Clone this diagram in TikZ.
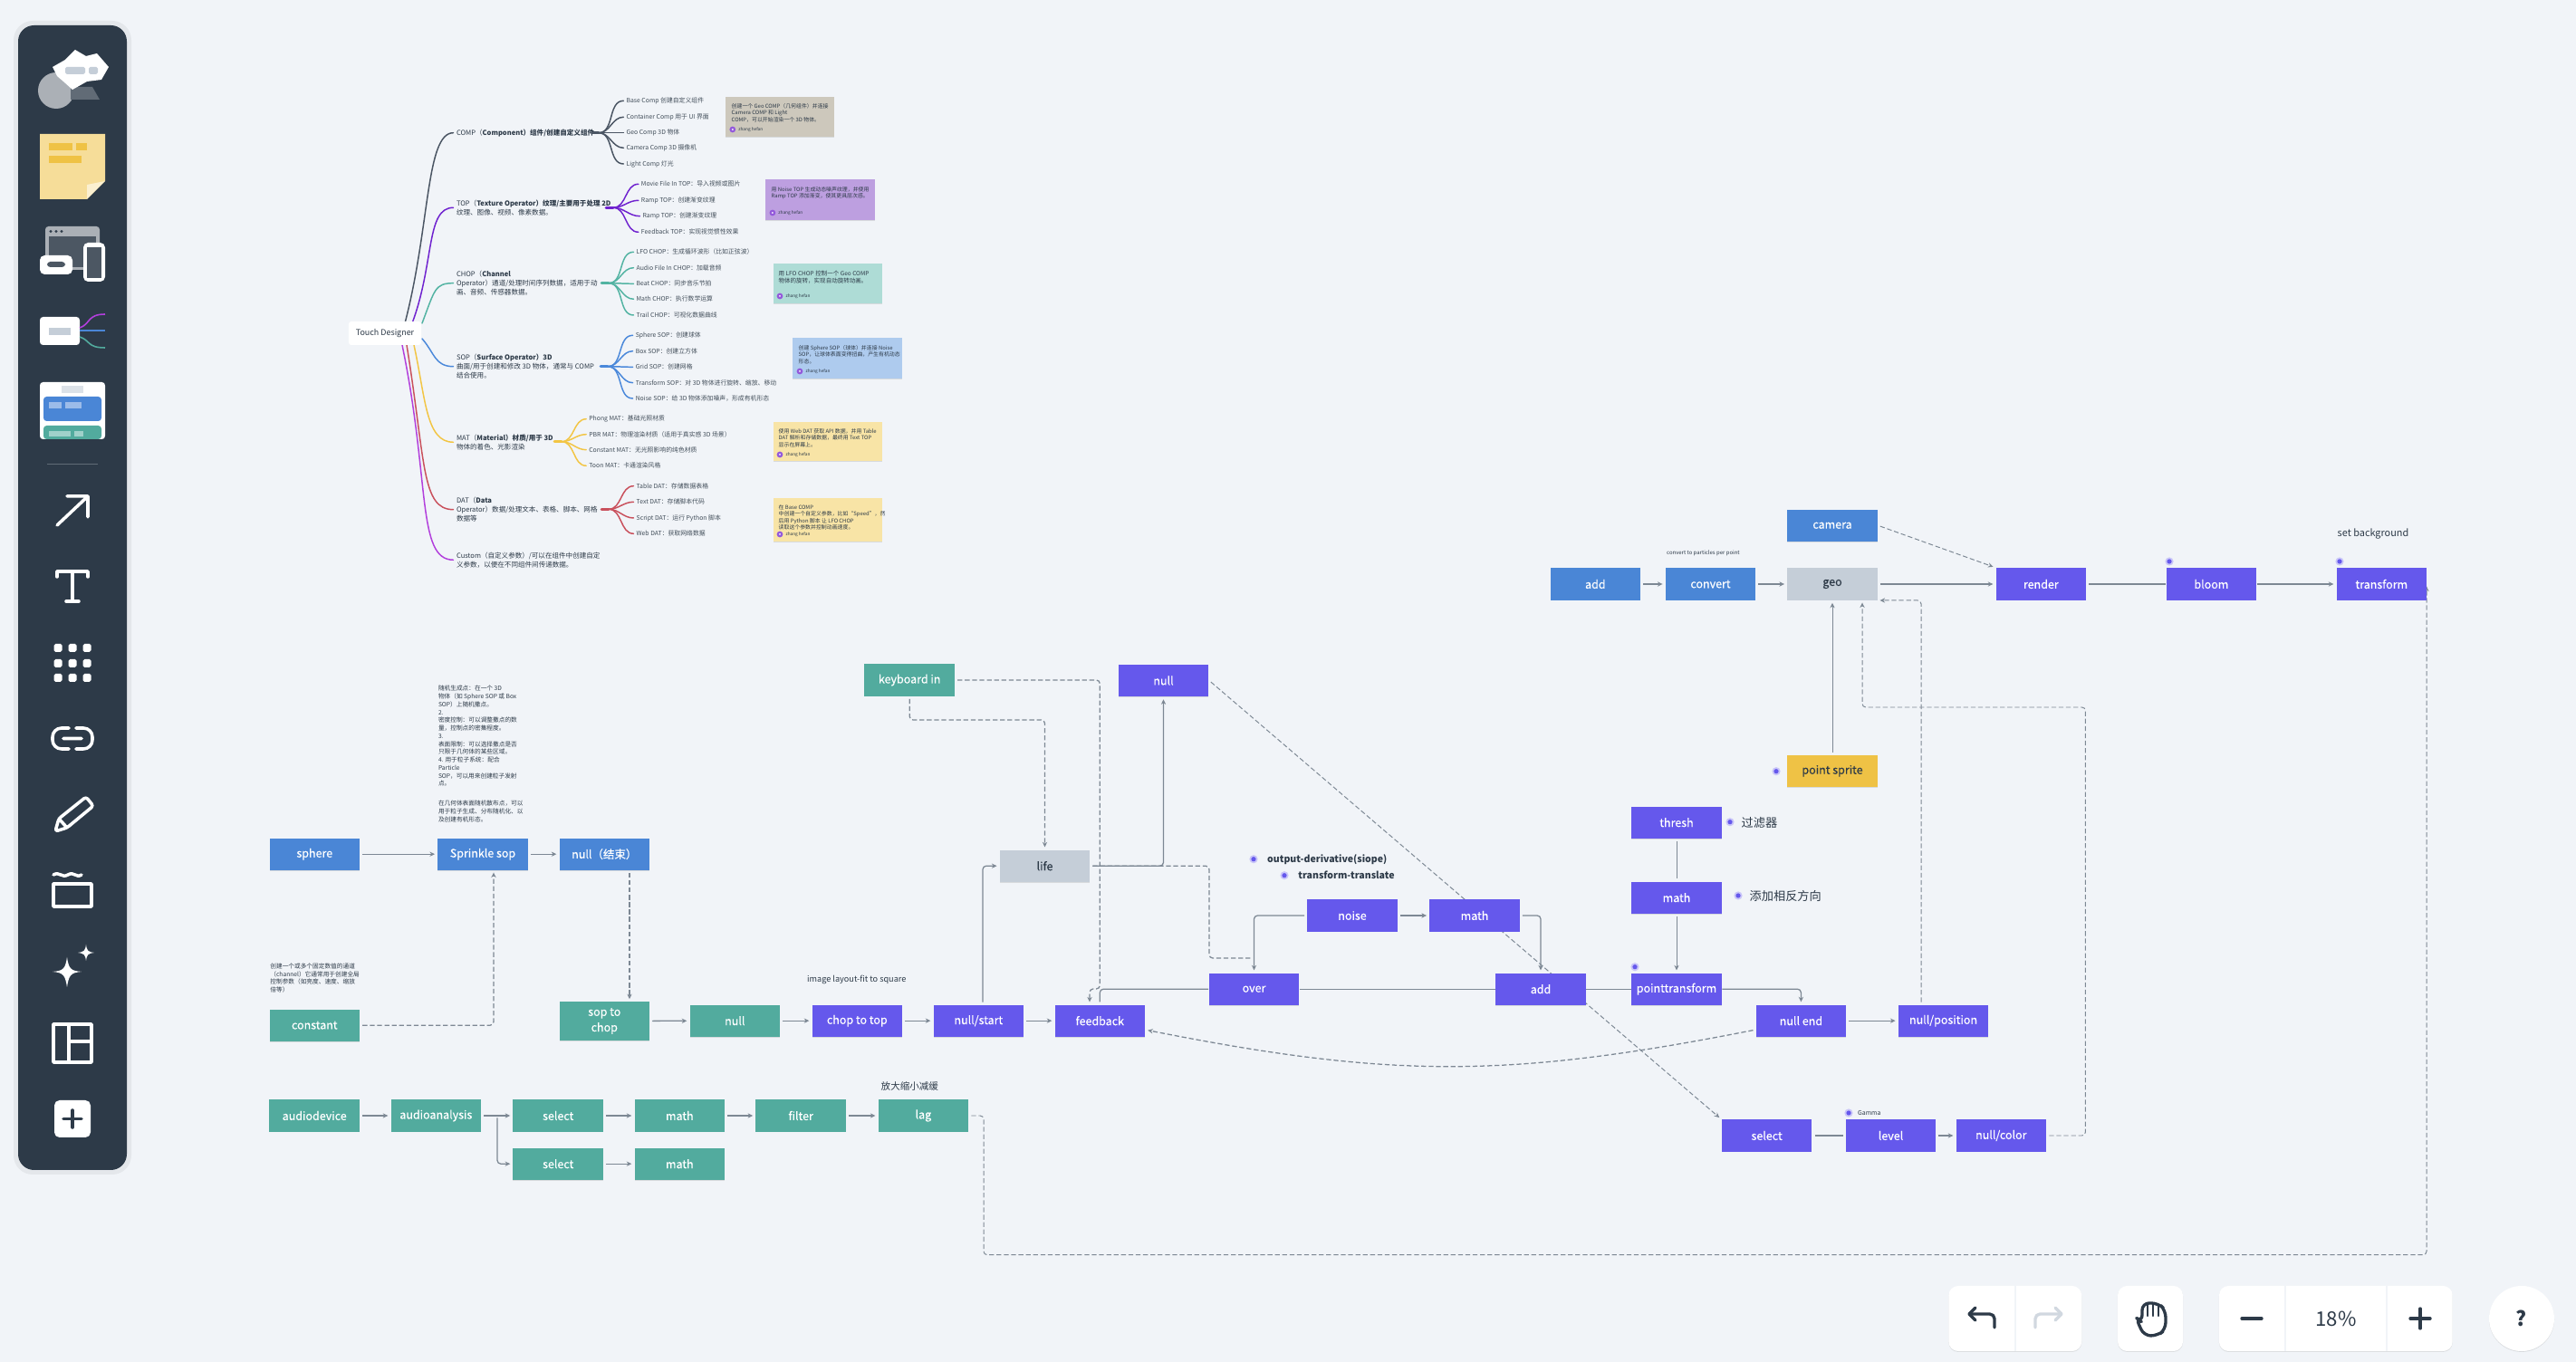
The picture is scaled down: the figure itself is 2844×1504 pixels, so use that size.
\documentclass[tikz,border=0pt]{standalone}
\usepackage{fontspec}
\setmainfont{Noto Sans CJK SC}
\usetikzlibrary{arrows.meta,shadows}
\definecolor{boardbg}{HTML}{F1F4F8}
\definecolor{panel}{HTML}{2D3A48}
\definecolor{ink}{HTML}{2D3A48}
\definecolor{wire}{HTML}{7D8894}
\definecolor{boxblue}{HTML}{4A86D6}
\definecolor{boxteal}{HTML}{52AB9E}
\definecolor{boxpurple}{HTML}{6558EC}
\definecolor{boxgrey}{HTML}{C5CED8}
\definecolor{boxyellow}{HTML}{EFC245}
\definecolor{mapcomp}{HTML}{4A5563}
\definecolor{maptop}{HTML}{6F22CF}
\definecolor{mapchop}{HTML}{52B3A2}
\definecolor{mapsop}{HTML}{4A88DA}
\definecolor{mapmat}{HTML}{F2C544}
\definecolor{mapdat}{HTML}{C9505C}
\definecolor{mapcustom}{HTML}{B23FDC}
\definecolor{notestone}{RGB}{205,200,188}
\definecolor{notelilac}{RGB}{189,159,224}
\definecolor{notemint}{RGB}{174,220,214}
\definecolor{notesky}{RGB}{174,203,238}
\definecolor{notesand}{RGB}{248,228,166}
\pgfdeclarelayer{board}
\pgfdeclarelayer{links}
\pgfsetlayers{board,links,main}
\tikzset{
	softshade/.style={drop shadow={shadow xshift=0pt,shadow yshift=-0.25pt,opacity=0.18,fill=black!60}},
	opbox/.style={rectangle,minimum width=0.995cm,minimum height=0.352cm,inner sep=0pt,text=white,softshade,font=\fontsize{3.55pt}{4.9pt}\selectfont\addfontfeature{FakeBold=0.3},align=center},
	bluebox/.style={opbox,fill=boxblue},
	tealbox/.style={opbox,fill=boxteal},
	purplebox/.style={opbox,fill=boxpurple},
	greybox/.style={opbox,fill=boxgrey,text=ink},
	yellowbox/.style={opbox,fill=boxyellow,text=ink},
	wirelink/.style={draw=wire,line width=0.36pt,rounded corners=1.1pt,shorten <=0.7pt,shorten >=0.7pt},
	wirearrow/.style={wirelink,-{Stealth[length=1.6pt,width=1.5pt]}},
	dashlink/.style={wirelink,dash pattern=on 1.5pt off 0.8pt},
	dasharrow/.style={dashlink,-{Stealth[length=1.6pt,width=1.5pt]}},
	caption/.style={inner sep=0pt,anchor=west,text=ink,font=\fontsize{2.6pt}{3.2pt}\selectfont},
	rootnode/.style={rectangle,fill=white,rounded corners=0.8pt,minimum width=0.8cm,minimum height=0.26cm,inner sep=0pt,text=ink,font=\fontsize{2.55pt}{3pt}\selectfont},
	topictext/.style={inner sep=0pt,outer sep=1pt,anchor=west,align=left,text=ink,font=\fontsize{2.15pt}{2.9pt}\selectfont},
	leaftext/.style={inner sep=0pt,outer sep=0.9pt,anchor=west,text=ink!90,font=\fontsize{1.95pt}{2.4pt}\selectfont},
	notecard/.style={rectangle,inner sep=0pt,minimum width=1.2cm,softshade},
	notetext/.style={inner sep=0pt,anchor=north west,align=left,text=ink,font=\fontsize{1.68pt}{2.1pt}\selectfont},
	noteauthor/.style={inner sep=0pt,anchor=west,text=ink,font=\fontsize{1.35pt}{1.6pt}\selectfont},
	plaintext/.style={inner sep=0pt,anchor=north west,align=left,text=ink,font=\fontsize{1.9pt}{2.49pt}\selectfont},
	mapline/.style={line width=0.42pt,line cap=round},
	iconline/.style={draw=white,line width=1pt,line cap=round,line join=round},
	dockbox/.style={rectangle,fill=white,rounded corners=3pt,minimum height=0.72cm,inner sep=0pt,softshade},
	dockline/.style={draw=ink,line width=0.95pt,line cap=round,line join=round},
	dockglyph/.style={inner sep=0pt,text=ink,font=\fontsize{6.3pt}{7pt}\selectfont},
}
\def\fieldmark(#1){\fill[boxpurple!35] (#1) circle (4.6); \fill[boxpurple] (#1) circle (2.6);}
\def\noteby(#1,#2){\fill[maptop!75] (#1,#2) circle (3.4); \fill[white] (#1,#2) circle (1); \node[noteauthor] at (#1+5.8,#2) {zhang hefan};}

\begin{document}
\begin{tikzpicture}[x=0.01cm,y=-0.01cm]
	\useasboundingbox (0,0) rectangle (2844,1504);
	\begin{pgfonlayer}{board}
		\fill[boardbg] (0,0) rectangle (2844,1504);
	\end{pgfonlayer}
	
	%%%%% TOOLBAR %%%%%
	
	\fill[black,opacity=0.05,rounded corners=6pt] (15,23) rectangle (145,1297);
	\fill[panel,rounded corners=5pt] (20,28) rectangle (140,1292);
	
	\fill[white!60!panel] (62,100) circle (20);
	\fill[white!25!panel] (78,96) -- (102,96) -- (110,110) -- (78,110) -- cycle;
	\fill[white] (58,74) -- (72,66) -- (83,55) -- (95,62) -- (107,59) -- (120,74) -- (112,88) -- (96,90) -- (80,99) -- (70,90) -- (63,84) -- cycle;
	\fill[boxgrey,rounded corners=0.5pt] (72,74) rectangle (94,82);
	\fill[boxgrey,rounded corners=0.5pt] (98,74) rectangle (108,82);
	
	\fill[boxyellow!55!white] (44,148) -- (116,148) -- (116,200) -- (96,220) -- (44,220) -- cycle;
	\fill[boxyellow!25!white] (96,220) -- (96,204) -- (116,200) -- cycle;
	\fill[boxyellow] (54,158) rectangle (80,166);
	\fill[boxyellow] (84,158) rectangle (96,166);
	\fill[boxyellow] (54,172.5) rectangle (90,180);
	
	\fill[white!60!panel,rounded corners=1pt] (50,250) rectangle (110,298);
	\fill[white!15!panel] (54,261) rectangle (106,295);
	\foreach \dotx in {56,62,68} {\fill[panel] (\dotx,255.5) circle (1.6);}
	\fill[white,rounded corners=1.5pt] (44,282) rectangle (80,303);
	\fill[white!15!panel,rounded corners=1pt] (52,289) rectangle (72,295);
	\fill[white,rounded corners=1.5pt] (92,268) rectangle (116,311);
	\fill[white!15!panel] (96,273) rectangle (112,307);
	
	\fill[white,rounded corners=1pt] (44,350) rectangle (88,381);
	\fill[boxgrey] (54,362) rectangle (78,370);
	\draw[mapcustom,line width=0.45pt] (88,362) .. controls (100,358) and (96,347) .. (116,347);
	\draw[boxblue,line width=0.45pt] (88,365) -- (116,365);
	\draw[boxteal,line width=0.45pt] (88,372) .. controls (100,376) and (96,384) .. (116,384);
	
	\fill[white,rounded corners=1pt] (44,422) rectangle (116,485);
	\fill[boxgrey!60!white] (68,426) rectangle (92,434);
	\fill[boxblue,rounded corners=1pt] (48,438) rectangle (112,465);
	\fill[white!45!boxblue] (54,444) rectangle (68,451);
	\fill[white!45!boxblue] (72,444) rectangle (90,451);
	\fill[boxteal,rounded corners=1pt] (48,470) rectangle (112,485);
	\fill[white!45!boxteal] (54,476) rectangle (78,482);
	\fill[white!45!boxteal] (82,476) rectangle (92,482);
	
	\draw[white!25!panel,line width=0.4pt] (52,512.6) -- (108,512.6);
	
	\draw[iconline] (63,580) -- (97,548) (74,548) -- (97,548) -- (97,571);
	\draw[iconline] (63,637) -- (63,631) -- (97,631) -- (97,637) (80,631) -- (80,664) (73,664) -- (87,664);
	\foreach \dotx in {64,80,96} {\foreach \doty in {715.5,732.5,748.5} {\fill[white,rounded corners=0.5pt] (\dotx-4.5,\doty-4.5) rectangle (\dotx+4.5,\doty+4.5);}}
	\draw[iconline,rounded corners=2.8pt] (76,804) -- (58,804) -- (58,827) -- (76,827) (84,804) -- (102,804) -- (102,827) -- (84,827) (70,815.5) -- (90,815.5);
	\draw[iconline,rounded corners=0.8pt] (61,918) -- (65,904) -- (95,880) -- (103,890) -- (74,914) -- cycle (65,904) -- (74,914);
	\draw[iconline] (59,966) .. controls (66,962) and (68,970) .. (75,966) .. controls (82,962) and (84,970) .. (90,966);
	\draw[iconline] (59,976) rectangle (101,1001);
	\fill[white] (74,1057) .. controls (76,1070) and (78,1072) .. (90,1073) .. controls (78,1074) and (76,1077) .. (74,1090) .. controls (72,1077) and (70,1074) .. (58,1073) .. controls (70,1072) and (72,1070) .. (74,1057) -- cycle;
	\fill[white] (95,1043) .. controls (96,1050) and (97,1051) .. (104,1052) .. controls (97,1053) and (96,1054) .. (95,1061) .. controls (94,1054) and (93,1053) .. (86,1052) .. controls (93,1051) and (94,1050) .. (95,1043) -- cycle;
	\draw[iconline] (59,1131) rectangle (101,1173) (76,1131) -- (76,1173) (76,1150) -- (101,1150);
	\fill[white,rounded corners=1.6pt] (60,1215) rectangle (100,1256);
	\draw[panel,line width=1pt,line cap=round] (70,1235.5) -- (90,1235.5) (80,1226) -- (80,1245);
	
	%%%%% ZOOM BAR %%%%%
	
	\node[dockbox,minimum width=1.468cm] (undobar) at (2224.8,1456) {};
	\node[dockbox,minimum width=0.72cm] (handbar) at (2374,1456) {};
	\node[dockbox,minimum width=2.577cm] (zoombar) at (2578.8,1456) {};
	\node[dockbox,circle,minimum width=0.72cm] (helpbar) at (2784,1456) {};
	\draw[boardbg,line width=0.3pt] (2225,1420) -- (2225,1492) (2523,1420) -- (2523,1492) (2635,1420) -- (2635,1492);
	\draw[dockline,rounded corners=1.5pt] (2202,1466) -- (2202,1451) -- (2174,1451);
	\draw[dockline] (2181,1444) -- (2174,1451) -- (2181,1458);
	\draw[dockline,draw=boxgrey!80!white,rounded corners=1.5pt] (2247,1466) -- (2247,1451) -- (2276,1451);
	\draw[dockline,draw=boxgrey!80!white] (2269,1444) -- (2276,1451) -- (2269,1458);
	\draw[dockline,rounded corners=2.2pt] (2358,1455) -- (2365,1460) -- (2365,1439) -- (2383,1439) -- (2391,1447) -- (2391,1468) -- (2382,1475) -- (2367,1475) -- cycle;
	\draw[dockline,line width=0.6pt] (2371,1441) -- (2371,1453) (2377,1441) -- (2377,1453) (2383,1441) -- (2383,1453);
	\draw[dockline] (2475,1456) -- (2497,1456) (2661,1456) -- (2683,1456) (2672,1445) -- (2672,1467);
	\node[dockglyph] (zoomlevel) at (2579,1456) {18\%};
	\node[dockglyph,font=\fontsize{6.4pt}{7pt}\selectfont\bfseries] (helpmark) at (2784,1456) {?};
	
	%%%%% MIND MAP %%%%%
	
	\node[rootnode] (root) at (425,368) {Touch Designer};
	\node[topictext] (comp) at (500.5,146.7) {COMP（\bfseries Component）组件/创建自定义组件};
	\node[topictext] (top) at (500.5,229.3) {TOP（\bfseries Texture Operator）纹理/主要用于处理 2D\\纹理、图像、视频、像素数据。};
	\node[topictext] (chop) at (500.5,312.7) {CHOP（\bfseries Channel\\Operator）通道/处理时间序列数据，适用于动\\画、音频、传感器数据。};
	\node[topictext] (sop) at (500.5,404.7) {SOP（\bfseries Surface Operator）3D\\曲面/用于创建和修改 3D 物体，通常与 COMP\\结合使用。};
	\node[topictext] (mat) at (500.5,488.3) {MAT（\bfseries Material）材质/用于 3D\\物体的着色、光影渲染};
	\node[topictext] (dat) at (500.5,562.7) {DAT（\bfseries Data\\Operator）数据/处理文本、表格、脚本、网格\\数据等};
	\node[topictext] (custom) at (500.5,618.3) {Custom（自定义参数）/可以在组件中创建自定\\义参数，以便在不同组件间传递数据。};
	\begin{pgfonlayer}{links}
		\draw[mapline,mapcomp] (447,357) .. controls (475,250) and (470,146.7) .. (comp.west);
		\draw[mapline,maptop] (455,357) .. controls (480,290) and (470,229.3) .. (top.west);
		\draw[mapline,mapchop] (466,357) .. controls (480,320) and (480,312.7) .. (chop.west);
		\draw[mapline,mapsop] (466,374) .. controls (480,390) and (480,404.7) .. (sop.west);
		\draw[mapline,mapmat] (457,381) .. controls (470,440) and (470,488.3) .. (mat.west);
		\draw[mapline,mapdat] (449,381) .. controls (470,510) and (465,562.7) .. (dat.west);
		\draw[mapline,mapcustom] (444,381) .. controls (475,530) and (460,618.3) .. (custom.west);
	\end{pgfonlayer}
	
	\coordinate (compfork) at (661,146.7);
	\coordinate (topfork) at (677,229.3);
	\coordinate (chopfork) at (672,312.7);
	\coordinate (sopfork) at (671,404.7);
	\coordinate (matfork) at (620,487.7);
	\coordinate (datfork) at (672,562.3);
	\draw[mapline,mapcomp,line width=0.75pt] (653,146.7) -- (compfork);
	\draw[mapline,maptop,line width=0.75pt] (669,229.3) -- (topfork);
	\draw[mapline,mapchop,line width=0.75pt] (664,312.7) -- (chopfork);
	\draw[mapline,mapsop,line width=0.75pt] (663,404.7) -- (sopfork);
	\draw[mapline,mapmat,line width=0.75pt] (612,487.7) -- (matfork);
	\draw[mapline,mapdat,line width=0.75pt] (664,562.3) -- (datfork);
	
	\foreach \leafname/\leafy/\leaftxt in {compa/111.3/{Base Comp 创建自定义组件},compb/129.3/{Container Comp 用于 UI 界面},compc/146.7/{Geo Comp 3D 物体},compd/163.3/{Camera Comp 3D 摄像机},compe/181/{Light Comp 灯光}} {
		\node[leaftext] (\leafname) at (688.4,\leafy) {\leaftxt};
		\draw[mapline,mapcomp] (compfork) to[out=0,in=180] (\leafname.west);
	}
	\foreach \leafname/\leafx/\leafy/\leaftxt in {topa/704.8/203.3/{Movie File In TOP：导入视频或图片},topb/704.8/221.3/{Ramp TOP：创建渐变纹理},topc/706.4/238.7/{Ramp TOP：创建渐变纹理},topd/704.8/256.3/{Feedback TOP：实现视觉惯性效果}} {
		\node[leaftext] (\leafname) at (\leafx,\leafy) {\leaftxt};
		\draw[mapline,maptop] (topfork) to[out=0,in=180] (\leafname.west);
	}
	\foreach \leafname/\leafy/\leaftxt in {chopa/278.3/{LFO CHOP：生成循环波形（比如正弦波）},chopb/295.7/{Audio File In CHOP：加载音频},chopc/313.3/{Beat CHOP：同步音乐节拍},chopd/330.3/{Math CHOP：执行数学运算},chope/348/{Trail CHOP：可视化数据曲线}} {
		\node[leaftext] (\leafname) at (699.5,\leafy) {\leaftxt};
		\draw[mapline,mapchop] (chopfork) to[out=0,in=180] (\leafname.west);
	}
	\foreach \leafname/\leafy/\leaftxt in {sopa/370.3/{Sphere SOP：创建球体},sopb/387.7/{Box SOP：创建立方体},sopc/405.3/{Grid SOP：创建网格},sopd/422.7/{Transform SOP：对 3D 物体进行旋转、缩放、移动},sope/440/{Noise SOP：给 3D 物体添加噪声，形成有机形态}} {
		\node[leaftext] (\leafname) at (698.6,\leafy) {\leaftxt};
		\draw[mapline,mapsop] (sopfork) to[out=0,in=180] (\leafname.west);
	}
	\foreach \leafname/\leafy/\leaftxt in {mata/462.7/{Phong MAT：基础光照材质},matb/479.7/{PBR MAT：物理渲染材质（适用于真实感 3D 场景）},matc/496.7/{Constant MAT：无光照影响的纯色材质},matd/514.3/{Toon MAT：卡通渲染风格}} {
		\node[leaftext] (\leafname) at (647.2,\leafy) {\leaftxt};
		\draw[mapline,mapmat] (matfork) to[out=0,in=180] (\leafname.west);
	}
	\foreach \leafname/\leafy/\leaftxt in {data/536.7/{Table DAT：存储数据表格},datb/554.3/{Text DAT：存储脚本代码},datc/572/{Script DAT：运行 Python 脚本},datd/589.3/{Web DAT：获取网络数据}} {
		\node[leaftext] (\leafname) at (699.5,\leafy) {\leaftxt};
		\draw[mapline,mapdat] (datfork) to[out=0,in=180] (\leafname.west);
	}
	
	%%%%% NOTES %%%%%
	
	\node[notecard,fill=notestone,minimum height=0.44cm] (notegeo) at (861.4,128.7) {};
	\node[notetext] at (807,113.8) {创建一个 Geo COMP（几何组件）并连接\\Camera COMP 和 Light\\COMP，可以开始渲染一个 3D 物体。};
	\noteby(808.8,143)
	\node[notecard,fill=notelilac,minimum height=0.444cm] (notenoise) at (905.5,220.5) {};
	\node[notetext] at (851,205.8) {用 Noise TOP 生成动态噪声纹理，并使用\\Ramp TOP 添加渐变，使其更具层次感。};
	\noteby(852.9,235)
	\node[notecard,fill=notemint,minimum height=0.444cm] (notelfo) at (913.7,312.8) {};
	\node[notetext,font=\fontsize{1.85pt}{2.5pt}\selectfont] at (859,298) {用 LFO CHOP 控制一个 Geo COMP\\物体的旋转，实现自动旋转动画。};
	\noteby(861,327)
	\node[notecard,fill=notesky,minimum height=0.444cm] (notesphere) at (935.5,395.5) {};
	\node[notetext] at (881,380.8) {创建 Sphere SOP（球体）并连接 Noise\\SOP，让球体表面变得扭曲，产生有机动态\\形态。};
	\noteby(883,410)
	\node[notecard,fill=notesand,minimum height=0.436cm] (noteweb) at (913.7,487.5) {};
	\node[notetext] at (859,472.8) {使用 Web DAT 获取 API 数据，并用 Table\\DAT 解析和存储数据，最终用 Text TOP\\显示在屏幕上。};
	\noteby(861,502)
	\node[notecard,fill=notesand,minimum height=0.483cm] (notebase) at (913.7,573.8) {};
	\node[notetext] at (859,556.8) {在 Base COMP\\中创建一个自定义参数，比如“Speed”，然\\后用 Python 脚本 让 LFO CHOP\\读取这个参数并控制动画速度。};
	\noteby(861,590)
	\node[plaintext] (sprinklenote) at (483.3,756.5) {随机生成点：在一个 3D\\物体（如 Sphere SOP 或 Box\\SOP）上随机撒点。\\2.\\密度控制：可以调整撒点的数\\量，控制点的密集程度。\\3.\\表面限制：可以选择撒点是否\\只限于几何体的某些区域。\\4. 用于粒子系统：配合\\Particle\\SOP，可以用来创建粒子发射\\点。};
	\node[plaintext] (sprinkletail) at (483.3,883.5) {在几何体表面随机散布点，可以\\用于粒子生成、分布随机化、以\\及创建有机形态。};
	\node[plaintext] (constantnote) at (297.7,1063) {创建一个或多个固定数值的通道\\（channel）它通常用于创建全局\\控制参数（如亮度、速度、缩放\\倍等）};
	
	%%%%% OPERATORS %%%%%
	
	\node[bluebox] (sphere) at (347.3,943.2) {sphere};
	\node[bluebox] (sprinkle) at (533,943.2) {Sprinkle sop};
	\node[bluebox] (nullfinish) at (667.3,943.2) {null（结束）};
	\node[tealbox] (constant) at (347.3,1132.2) {constant};
	\node[tealbox,minimum height=0.436cm] (soptochop) at (667.3,1127.5) {sop to\\chop};
	\node[tealbox] (nullchop) at (811.3,1127.2) {null};
	\node[purplebox] (choptotop) at (946.3,1127.2) {chop to top};
	\node[purplebox] (nullstart) at (1080.3,1127.2) {null/start};
	\node[tealbox] (audiodevice) at (347.2,1232) {audiodevice};
	\node[tealbox] (audioanalysis) at (481.3,1232) {audioanalysis};
	\node[tealbox] (selecta) at (616.2,1232) {select};
	\node[tealbox] (matha) at (750.3,1232) {math};
	\node[tealbox] (filter) at (884.2,1232) {filter};
	\node[tealbox] (lag) at (1019.4,1232) {lag};
	\node[tealbox] (selectb) at (616.2,1285.2) {select};
	\node[tealbox] (mathb) at (750.3,1285.2) {math};
	\node[tealbox] (keyboard) at (1004.2,751) {keyboard in};
	\node[purplebox] (nulltop) at (1284.5,751.5) {null};
	\node[greybox] (life) at (1153.5,956.2) {life};
	\node[purplebox] (noise) at (1493,1011) {noise};
	\node[purplebox] (mathc) at (1628,1011) {math};
	\node[purplebox] (over) at (1384.5,1092.2) {over};
	\node[purplebox] (addb) at (1701,1092.2) {add};
	\node[purplebox] (feedback) at (1214.3,1127.2) {feedback};
	\node[purplebox] (pointtransform) at (1851,1092.2) {pointtransform};
	\node[purplebox] (thresh) at (1851,908.2) {thresh};
	\node[purplebox] (mathd) at (1851,991.2) {math};
	\node[purplebox] (nullend) at (1988.4,1127.2) {null end};
	\node[purplebox] (nullposition) at (2145.5,1127.2) {null/position};
	\node[purplebox] (selectc) at (1950.6,1254) {select};
	\node[purplebox] (level) at (2087.5,1254) {level};
	\node[purplebox] (nullcolor) at (2209.3,1254) {null/color};
	\node[bluebox] (camera) at (2023,580.3) {camera};
	\node[bluebox] (adda) at (1761.3,645) {add};
	\node[bluebox] (convert) at (1888.5,645) {convert};
	\node[greybox] (geo) at (2023,645) {geo};
	\node[purplebox] (render) at (2253.3,645) {render};
	\node[purplebox] (bloom) at (2441.4,645) {bloom};
	\node[purplebox] (transform) at (2629.3,645) {transform};
	\node[yellowbox] (pointsprite) at (2023,851.3) {point sprite};
	
	\node[caption] (imagelayout) at (890.5,1082) {image layout-fit to square};
	\node[caption,font=\fontsize{3pt}{3.6pt}\selectfont] (lagnote) at (972,1200) {放大缩小减缓};
	\node[caption,font=\fontsize{3.1pt}{3.6pt}\selectfont] (setbg) at (2580,590) {set background};
	\node[caption,font=\fontsize{1.7pt}{2pt}\selectfont] (convertnote) at (1839.4,611) {convert to particles per point};
	\node[caption,font=\fontsize{3.75pt}{4pt}\selectfont] (filternote) at (1922,909) {过滤器};
	\node[caption,font=\fontsize{3.75pt}{4pt}\selectfont] (mathnote) at (1931,989) {添加相反方向};
	\node[caption,font=\fontsize{1.95pt}{2.4pt}\selectfont] (gammanote) at (2050.5,1229) {Gamma};
	\node[caption,font=\fontsize{3pt}{3.6pt}\selectfont\bfseries] (outputnote) at (1398.5,948.7) {output-derivative(siope)};
	\node[caption,font=\fontsize{3pt}{3.6pt}\selectfont\bfseries] (translatenote) at (1432.7,966.7) {transform-translate};
	\fieldmark(1910,907.7)
	\fieldmark(1919,989)
	\fieldmark(1805,1067.7)
	\fieldmark(1961,851.7)
	\fieldmark(2395,620)
	\fieldmark(2583,620)
	\fieldmark(2041,1229)
	\fieldmark(1384,948.7)
	\fieldmark(1418,966.7)
	
	%%%%% CONNECTORS %%%%%
	
	\coordinate (sprinklein) at (545,961);
	\coordinate (sopin) at (695,1105.7);
	\coordinate (lifeturn) at (1153.5,795);
	\coordinate (feedturn) at (1214.3,1092);
	\coordinate (feedin) at (1203,1109);
	\coordinate (startup) at (1085,1109);
	\coordinate (lifeleft) at (1103,956.2);
	\coordinate (overjog) at (1335,1058);
	\coordinate (overin) at (1383,1058);
	\coordinate (posup) at (2121,1109);
	\coordinate (geoin) at (2073,663);
	\coordinate (colorturn) at (2302.4,781);
	\coordinate (geoback) at (2056,663);
	\coordinate (lagdown) at (1086,1385.7);
	\coordinate (transformin) at (2679,645);
	\coordinate (audiosplit) at (549,1232);
	\begin{pgfonlayer}{links}
		\draw[wirearrow] (sphere) -- (sprinkle);
		\draw[wirearrow] (sprinkle) -- (nullfinish);
		\draw[dasharrow] (constant) -| (sprinklein);
		\draw[dasharrow] (sopin |- nullfinish.south) -- (sopin);
		\draw[wirearrow] (soptochop) -- (nullchop);
		\draw[wirearrow] (nullchop) -- (choptotop);
		\draw[wirearrow] (choptotop) -- (nullstart);
		\draw[wirearrow] (nullstart) -- (feedback);
		\draw[wirearrow] (startup) |- (lifeleft);
		\draw[wirearrow] (audiodevice) -- (audioanalysis);
		\draw[wirearrow] (audioanalysis) -- (selecta);
		\draw[wirearrow] (selecta) -- (matha);
		\draw[wirearrow] (matha) -- (filter);
		\draw[wirearrow] (filter) -- (lag);
		\draw[wirearrow] (audiosplit) |- (selectb);
		\draw[wirearrow] (selectb) -- (mathb);
		\draw[dasharrow] (keyboard) |- (lifeturn) -- (life);
		\draw[dasharrow] (keyboard) -| (feedturn) -| (feedin);
		\draw[wirearrow] (life) -| (nulltop);
		\draw[dashlink] (life) -| (overjog) -- (overin);
		\draw[wirearrow] (noise) -| (over);
		\draw[wirearrow] (noise) -- (mathc);
		\draw[wirearrow] (mathc) -| (addb);
		\draw[wirelink,shorten <=0pt] (over) -| (feedback);
		\draw[wirelink,shorten <=0pt,shorten >=0pt] (over) -- (addb);
		\draw[wirelink,shorten <=0pt,shorten >=0pt] (addb) -- (pointtransform);
		\draw[wirelink,line width=0.28pt] (thresh) -- (mathd);
		\draw[wirearrow,line width=0.28pt] (mathd) -- (pointtransform);
		\draw[wirearrow,shorten <=0pt] (pointtransform) -| (nullend);
		\draw[wirearrow] (nullend) -- (nullposition);
		\draw[dasharrow] (nullend) .. controls (1665,1191) and (1536,1191) .. (feedback);
		\draw[dasharrow,line width=0.28pt] (nulltop.east) -- (selectc.north west);
		\draw[wirelink] (selectc) -- (level);
		\draw[wirearrow] (level) -- (nullcolor);
		\draw[dasharrow,line width=0.28pt] (nullcolor) -| (colorturn) -| (geoback);
		\draw[dasharrow,line width=0.28pt] (posup) |- (geoin);
		\draw[wirearrow] (adda) -- (convert);
		\draw[wirearrow] (convert) -- (geo);
		\draw[wirearrow] (geo) -- (render);
		\draw[dasharrow,line width=0.28pt] (camera.east) -- (render.north west);
		\draw[wirelink,shorten >=0pt] (render) -- (bloom);
		\draw[wirearrow,shorten <=0pt] (bloom) -- (transform);
		\draw[wirearrow,line width=0.28pt] (pointsprite) -- (geo);
		\draw[dasharrow,line width=0.28pt] (lag) -| (lagdown) -| (transformin);
	\end{pgfonlayer}
\end{tikzpicture}
\end{document}
